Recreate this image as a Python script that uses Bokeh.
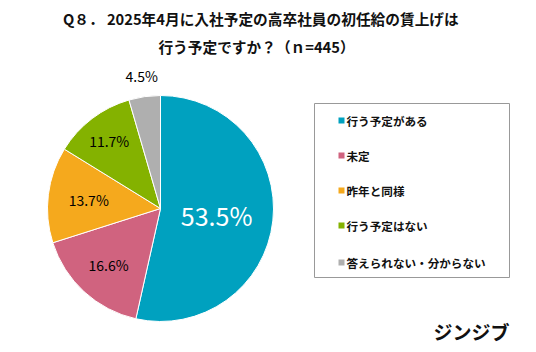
import math
from bokeh.plotting import figure
from bokeh.models import Range1d, ColumnDataSource
from bokeh.core.properties import value
from bokeh.embed import file_html
from bokeh.resources import INLINE

categories = ["行う予定がある", "未定", "昨年と同様", "行う予定はない", "答えられない・分からない"]
percents = [53.5, 16.6, 13.7, 11.7, 4.5]
colors = ["#00A1BF", "#D0637F", "#F5A91D", "#84B200", "#AFAFAF"]
title_lines = ["Q８．  2025年4月に入社予定の高卒社員の初任給の賃上げは", "行う予定ですか？（ｎ=445）"]
brand = "ジンジブ"

W, H = 536, 352
FONT = "Noto Sans CJK JP"

p = figure(width=W, height=H, output_backend="svg", toolbar_location=None,
           x_range=Range1d(0, W), y_range=Range1d(0, H), min_border=0)
p.axis.visible = False
p.grid.visible = False
p.outline_line_color = None
p.background_fill_color = "white"

cx, cy, r = 160, H - 208, 113
total = sum(percents)
starts, ends, mids = [], [], []
cum = 0.0
for v in percents:
    a0 = math.pi / 2 - 2 * math.pi * cum / total
    cum += v
    a1 = math.pi / 2 - 2 * math.pi * cum / total
    starts.append(a0); ends.append(a1); mids.append((a0 + a1) / 2)

src = ColumnDataSource(dict(start=starts, end=ends, color=colors))
p.wedge(x=cx, y=cy, radius=r, start_angle="start", end_angle="end", direction="clock",
        fill_color="color", line_color="white", line_width=1, source=src)

# data labels
label_r = [0.50, 0.68, 0.64, 0.75, 1.18]
lx = [cx + r * f * math.cos(m) for f, m in zip(label_r, mids)]
ly = [cy + r * f * math.sin(m) for f, m in zip(label_r, mids)]
ltxt = [f"{v:.1f}%" for v in percents]
p.text(x=lx[:1], y=ly[:1], text=ltxt[:1], text_color="white", text_font=value(FONT),
       text_font_size="25px", text_align="center", text_baseline="middle")
p.text(x=lx[1:], y=ly[1:], text=ltxt[1:], text_color="#000000", text_font=value(FONT),
       text_font_size="14px", text_align="center", text_baseline="middle")

# title
p.text(x=[262, 256], y=[H - 18, H - 46], text=title_lines, text_color="#111111",
       text_font=value(FONT), text_font_size="14.7px", text_font_style="bold",
       text_align="center", text_baseline="middle")

# legend box
lx0, lx1, ly0, ly1 = 314, 509, H - 103, H - 277
p.quad(left=lx0, right=lx1, top=ly0, bottom=ly1, fill_color="white",
       line_color="#999999", line_width=1)
item_y = [H - 120, H - 155, H - 190, H - 225, H - 262]
p.rect(x=[341] * 5, y=item_y, width=6, height=6, fill_color=colors, line_color=None)
p.text(x=[346] * 5, y=item_y, text=categories, text_color="#111111",
       text_font=value(FONT), text_font_size="11.6px", text_font_style="bold",
       text_align="left", text_baseline="middle")

# brand
p.text(x=[471], y=[H - 331], text=[brand], text_color="#111111", text_font=value(FONT),
       text_font_size="19px", text_font_style="bold", text_align="center",
       text_baseline="middle")

open("out.html", "w").write(file_html(p, INLINE))
